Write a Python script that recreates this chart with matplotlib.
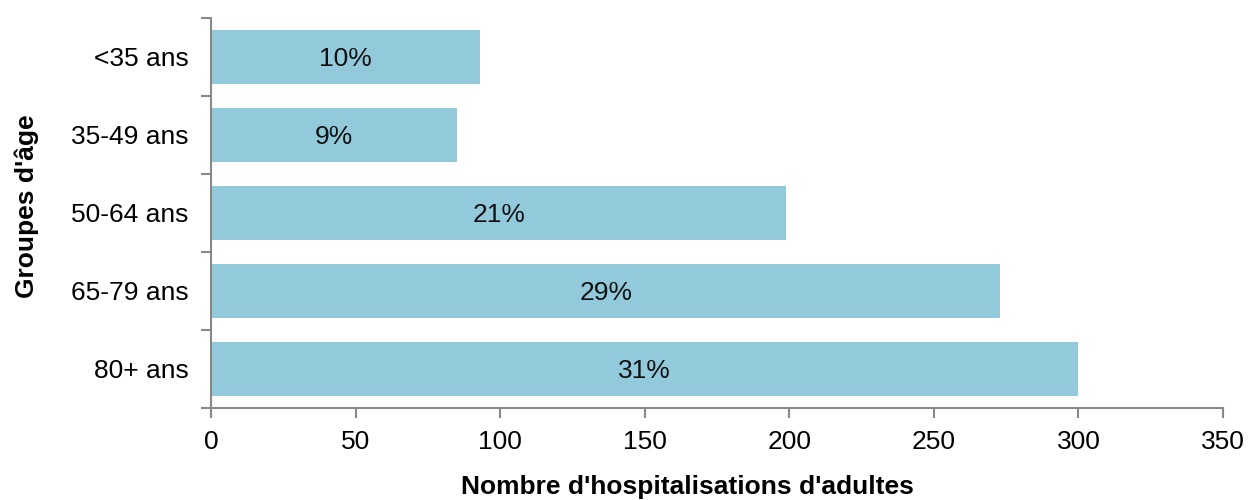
import matplotlib
matplotlib.use("Agg")
import matplotlib.pyplot as plt

categories = ["<35 ans", "35-49 ans", "50-64 ans", "65-79 ans", "80+ ans"]
values = [93, 85, 199, 273, 300]
pct_labels = ["10%", "9%", "21%", "29%", "31%"]
xticks = [0, 50, 100, 150, 200, 250, 300, 350]

plt.rcParams['font.family'] = ['Liberation Sans', 'DejaVu Sans']

fig = plt.figure(figsize=(12.48, 5.0), dpi=100)
ax = fig.add_axes([211/1248, 1-408/500, (1223-211)/1248, (408-18)/500])

ypos = list(range(len(categories)))
bars = ax.barh(ypos, values, height=0.70, color="#92CADC", edgecolor="none")
for i, (v, lab) in enumerate(zip(values, pct_labels)):
    ax.text(v/2, i + 0.02, lab, ha="center", va="center", fontsize=19, color="#111111")

ax.set_ylim(len(categories)-0.5, -0.5)
ax.set_xlim(0, 350)
ax.set_xticks(xticks)
ax.set_xticklabels([str(t) for t in xticks], fontsize=19)
ax.set_yticks(ypos)
ax.set_yticklabels(categories, fontsize=19)
ax.tick_params(axis="y", length=0, pad=16)
ax.set_yticks([i-0.5 for i in range(len(categories)+1)], minor=True)
ax.tick_params(axis="y", which="minor", length=7, width=1.5, color="#888888", direction="out")
ax.tick_params(axis="x", length=7, width=1.5, color="#888888", direction="out", pad=9)

for s in ["top", "right"]:
    ax.spines[s].set_visible(False)
for s in ["left", "bottom"]:
    ax.spines[s].set_color("#888888")
    ax.spines[s].set_linewidth(1.5)

ax.set_xlabel("Nombre d'hospitalisations d'adultes", fontsize=19, fontweight="bold")
ax.xaxis.set_label_coords(0.471, -0.172)
ax.set_ylabel("Groupes d'âge", fontsize=19, fontweight="bold")
ax.yaxis.set_label_coords(-0.170, 0.518)

fig.savefig("out.png", dpi=100)
